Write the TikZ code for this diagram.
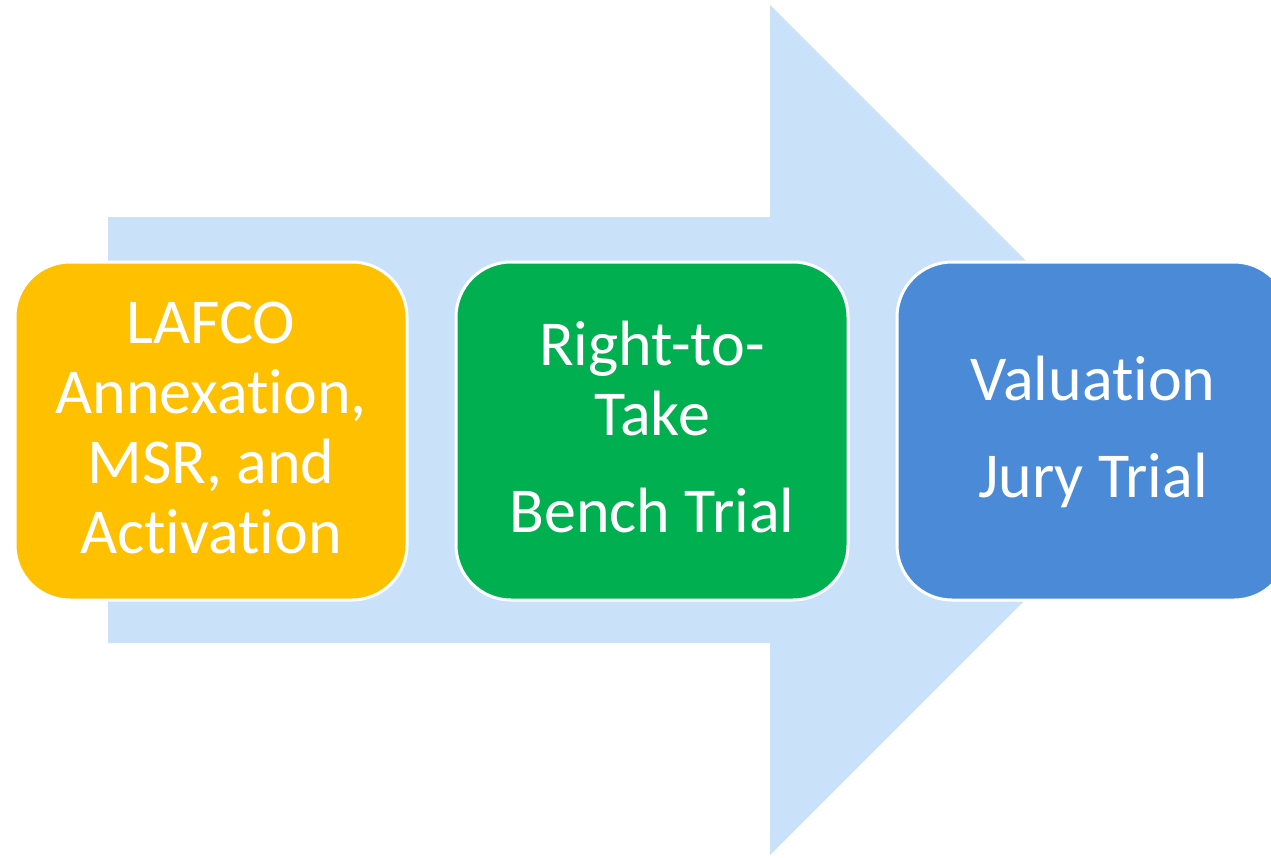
\documentclass[tikz,border=0pt]{standalone}
\usepackage{fontspec}
\setmainfont[Ligatures={NoCommon}]{Carlito}
\definecolor{arrowbg}{HTML}{C9E2F9}
\definecolor{boxyellow}{HTML}{FFC000}
\definecolor{boxgreen}{HTML}{00B050}
\definecolor{boxblue}{HTML}{4A8AD7}
\newcommand{\nolig}{\kern0pt{}}
\tikzset{
  stagebox/.style={draw=white, line width=3pt, rounded corners=55pt, minimum width=392pt, minimum height=338pt, inner sep=0pt},
  txt/.style={text=white, anchor=base, inner sep=0pt, font=\fontsize{64}{70}\selectfont}
}
\begin{document}
\begin{tikzpicture}[x=1pt,y=-1pt]
\useasboundingbox (0,0) rectangle (1271,857);
\clip (0,0) rectangle (1271,857);
\fill[arrowbg] (108,217) -- (770,217) -- (770,5) -- (1195,430) -- (770,855) -- (770,643) -- (108,643) -- cycle;
\node[stagebox, fill=boxyellow] (b1) at (211,431) {};
\node[stagebox, fill=boxgreen] (b2) at (652,431) {};
\node[stagebox, fill=boxblue] (b3) at (1093,431) {};
\node[txt] (t1a) at (211,343) {LAFCO};
\node[txt] (t1b) at (211,413) {Annexat\nolig ion,};
\node[txt] (t1c) at (211,483) {MSR, and};
\node[txt] (t1d) at (211,553) {Act\nolig ivat\nolig ion};
\node[txt] (t2a) at (652,365) {Right-to-};
\node[txt] (t2b) at (652,435) {Take};
\node[txt] (t2c) at (652,532) {Bench Trial};
\node[txt] (t3a) at (1093,400) {Valuat\nolig ion};
\node[txt] (t3b) at (1093,497) {Jury Trial};
\end{tikzpicture}
\end{document}
